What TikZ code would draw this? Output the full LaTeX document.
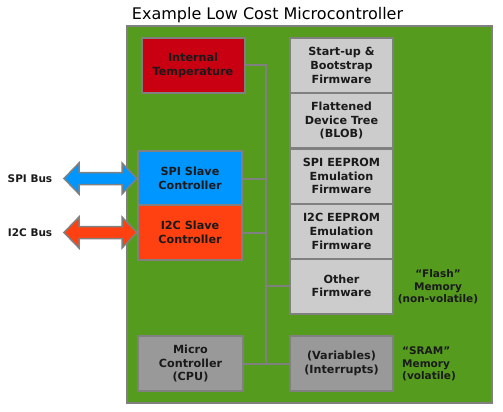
\documentclass[tikz,border=0pt]{standalone}
\usepackage{fontspec}
\setmainfont{DejaVu Sans}
\usetikzlibrary{calc}
\definecolor{boardgreen}{RGB}{85,155,30}
\definecolor{edgegray}{RGB}{128,128,128}
\definecolor{flashgray}{RGB}{204,204,204}
\definecolor{sramgray}{RGB}{153,153,153}
\definecolor{tempred}{RGB}{200,0,18}
\definecolor{spiblue}{RGB}{0,150,255}
\definecolor{itcred}{RGB}{255,64,16}
\definecolor{inkdark}{RGB}{26,26,26}

\begin{document}
\begin{tikzpicture}[x=1pt,y=-1pt,
    block/.style={draw=edgegray, line width=2pt, minimum width=103pt, minimum height=55pt,
        inner sep=0pt, align=center, text=inkdark, font=\fontsize{11.2}{13.6}\selectfont\bfseries},
    bus/.style={draw=edgegray, line width=2pt},
    busarrow/.style={draw=edgegray, line width=1.5pt, line join=miter},
    note/.style={text=inkdark, inner sep=0pt, font=\fontsize{10.5}{12.5}\selectfont\bfseries}]
    \useasboundingbox (0,0) rectangle (503,412);

    \node[anchor=base] (title) at (267.5,20) {\fontsize{16}{19}\selectfont Example Low Cost Microcontroller};
    \draw[fill=boardgreen, draw=edgegray, line width=2pt] (127,26) rectangle (492,403);

    \node[block, fill=tempred] (temp) at (193,65.5) {Internal\\Temperature};
    \node[block, fill=spiblue, minimum width=104pt] (spi) at (190,178.5) {SPI Slave\\Controller};
    \node[block, fill=itcred, minimum width=104pt] (itc) at (190,232.5) {I2C Slave\\Controller};
    \node[block, fill=sramgray, minimum width=105pt] (cpu) at (190.5,363.5) {Micro\\Controller\\(CPU)};

    \node[block, fill=flashgray] (boot) at (341.5,65.5) {Start-up \&\\Bootstrap\\Firmware};
    \node[block, fill=flashgray] (fdt) at (341.5,120.5) {Flattened\\Device Tree\\(BLOB)};
    \node[block, fill=flashgray] (spiee) at (341.5,176) {SPI EEPROM\\Emulation\\Firmware};
    \node[block, fill=flashgray] (itcee) at (341.5,231.5) {I2C EEPROM\\Emulation\\Firmware};
    \node[block, fill=flashgray] (other) at (341.5,286) {Other\\Firmware};
    \node[block, fill=sramgray] (sram) at (341.5,363.5) {(Variables)\\(Interrupts)};

    \coordinate (bustop) at (266,65.5);
    \coordinate (busbot) at (266,363.5);
    \draw[bus] (temp.east) -- (bustop) -- (busbot);
    \draw[bus] (spi.east) -- (spi.east -| bustop);
    \draw[bus] (itc.east) -- (itc.east -| bustop);
    \draw[bus] (other.west) -- (other.west -| bustop);
    \draw[bus] (cpu.east) -- (sram.west);

    \draw[busarrow, fill=spiblue] (spi.west) -- ++(-15,-15.5) -- ++(0,9.5) -- ++(-43,0) -- ++(0,-9.5)
        -- ++(-15,15.5) node[note, left=11pt] (spibus) {SPI Bus} -- ++(15,15.5) -- ++(0,-9.5) -- ++(43,0) -- ++(0,9.5) -- cycle;
    \draw[busarrow, fill=itcred] (itc.west) -- ++(-15,-15.5) -- ++(0,9.5) -- ++(-43,0) -- ++(0,-9.5)
        -- ++(-15,15.5) node[note, left=11pt] (itcbus) {I2C Bus} -- ++(15,15.5) -- ++(0,-9.5) -- ++(43,0) -- ++(0,9.5) -- cycle;

    \node[note, align=center] (flash) at (438,287) {“Flash”\\Memory\\(non-volatile)};
    \node[note, align=left, anchor=west] (sramnote) at (402,364) {“SRAM”\\Memory\\(volatile)};
\end{tikzpicture}
\end{document}
